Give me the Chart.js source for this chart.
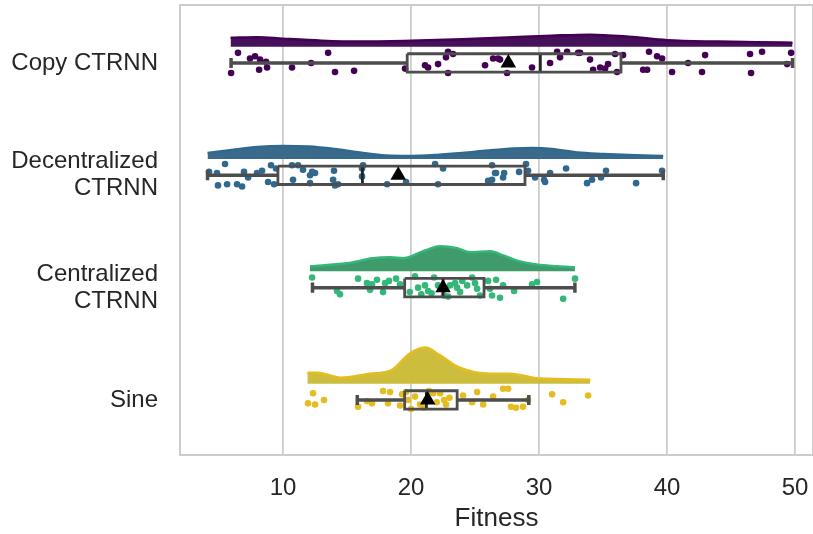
<!DOCTYPE html>
<html>
<head>
<meta charset="utf-8">
<script src="https://cdn.jsdelivr.net/npm/chart.js@4.4.1/dist/chart.umd.min.js"></script>
<style>
  html, body { margin: 0; padding: 0; background: #fff; }
  #wrap { width: 813px; height: 534px; }
</style>
</head>
<body>
<div id="wrap"><canvas id="chart"></canvas></div>
<script>
// categories (top to bottom)
const categories = [['Copy CTRNN'], ['Decentralized', 'CTRNN'], ['Centralized', 'CTRNN'], ['Sine']];
const pointColors = ['#440154', '#31688e', '#35b779', '#e6bd20'];
const cloudColors = ['#45115a', '#396a8c', '#3f9a6c', '#cdbd3c'];

// box stats
const whiskerLo = [5.94, 4.1, 12.3, 15.8];
const q1 = [19.7, 9.6, 19.5, 19.5];
const median = [30.1, 16.2, 22.5, 21.2];
const q3 = [36.4, 28.9, 25.7, 23.6];
const whiskerHi = [49.8, 39.7, 32.8, 29.2];
const means = [27.6, 19.0, 22.5, 21.3];

// raw points (fitness) + vertical jitter (category units)
const copyX = [5.94, 6.48, 7.42, 7.81, 8.13, 8.20, 8.67, 8.75, 10.70, 12.19, 13.52, 14.06, 15.55, 19.53, 21.09, 21.33, 22.11, 22.73, 22.89, 23.28, 22.89, 25.78, 26.41, 26.80, 26.95, 27.50, 29.45, 30.86, 31.41, 31.64, 32.19, 33.05, 33.20, 33.98, 34.22, 34.77, 35.16, 35.39, 35.94, 36.09, 36.56, 38.13, 38.44, 38.59, 39.22, 39.61, 40.39, 41.64, 42.73, 42.97, 46.48, 46.56, 47.42, 49.38, 49.69];
const copyJ = [0.09, -0.09, -0.04, -0.06, 0.06, -0.03, -0.01, 0.04, 0.04, 0, -0.09, 0.08, 0.07, 0.05, 0.02, 0.04, 0.01, -0.05, -0.10, -0.08, 0.09, 0.02, -0.04, -0.04, -0.03, 0.09, 0.04, 0, -0.10, -0.05, -0.10, -0.09, -0.09, -0.03, 0.06, 0.04, 0.05, 0.01, -0.08, 0.08, -0.07, 0.06, 0.06, -0.10, -0.06, -0.04, 0.08, 0, 0.08, -0.07, -0.08, 0.09, -0.10, 0.01, -0.09];

const decX = [4.22, 4.84, 5.47, 4.92, 5.63, 6.41, 6.80, 6.95, 7.27, 7.97, 8.36, 8.83, 9.06, 9.30, 9.45, 10.70, 10.78, 11.17, 11.56, 12.11, 12.27, 12.50, 12.11, 13.98, 13.91, 14.06, 14.30, 16.17, 16.17, 16.25, 18.13, 19.61, 21.88, 22.50, 22.11, 26.02, 26.33, 26.56, 26.33, 26.64, 27.19, 27.27, 28.44, 28.98, 29.14, 29.69, 30.39, 30.47, 30.86, 32.11, 33.75, 34.14, 34.84, 35.23, 37.58, 39.61];
const decJ = [-0.03, -0.02, -0.10, 0.09, 0.08, 0.08, 0.10, -0.03, 0.02, -0.02, -0.04, 0.06, -0.09, 0.08, -0.06, -0.09, 0.04, -0.09, -0.05, 0, -0.03, -0.02, 0.07, -0.04, 0.04, 0.09, 0.08, -0.06, 0.01, -0.09, 0.08, 0.06, -0.10, -0.06, 0.08, 0.05, 0.04, -0.02, -0.09, -0.02, 0.02, -0.02, -0.03, -0.10, -0.04, 0.02, 0.04, 0.06, -0.02, -0.06, 0.07, 0.04, 0.02, -0.04, 0.07, -0.04];

const cenX = [12.27, 14.22, 14.45, 15.86, 16.56, 16.80, 16.95, 17.34, 17.81, 17.97, 18.28, 18.83, 19.14, 20.31, 20.55, 21.09, 21.33, 21.80, 22.11, 22.58, 23.05, 23.44, 23.59, 23.83, 24.38, 24.77, 25.00, 25.16, 25.39, 26.02, 26.17, 26.33, 26.64, 26.95, 27.19, 28.05, 29.45, 29.84, 31.88, 32.81, 21.6, 22.9, 24.0, 20.8, 19.9];
const cenJ = [-0.09, 0.03, 0.06, -0.08, -0.04, 0.02, -0.03, -0.07, 0.04, -0.04, -0.06, -0.08, -0.03, -0.10, 0, -0.02, 0.03, -0.09, -0.02, 0.07, -0.02, -0.04, 0, 0.04, -0.02, -0.09, -0.04, 0.01, 0.07, -0.06, 0.01, 0.07, -0.07, 0.09, -0.02, 0.03, -0.03, -0.05, 0.10, -0.08, 0.05, 0.08, -0.06, 0.06, 0.04];

const sineX = [11.95, 12.34, 12.50, 13.20, 15.86, 16.56, 16.95, 17.81, 18.36, 18.20, 19.14, 19.30, 19.77, 20.31, 20.70, 21.72, 22.27, 22.58, 22.73, 24.06, 24.77, 25.16, 25.63, 26.41, 27.19, 27.58, 27.81, 28.20, 28.75, 29.14, 31.02, 31.88, 33.83, 21.0, 21.4, 20.0, 23.0, 22.0, 19.6];
const sineJ = [0.03, -0.06, 0.04, 0, 0.06, 0.01, 0.03, -0.08, -0.07, 0.03, 0.05, -0.05, 0, -0.03, 0.04, -0.06, -0.06, 0, 0.04, -0.04, 0.02, -0.07, 0.04, -0.03, -0.10, -0.10, 0.06, 0.07, 0.06, 0, -0.05, 0.02, -0.04, 0.07, -0.08, 0.08, -0.02, 0.02, -0.07];

// half-violin outlines: x grid and height (category units)
const copyCloudX = [5.9, 8, 10, 13, 16, 20, 24, 28, 31, 34, 37, 40, 44, 47, 49.8];
const copyCloudH = [0.080, 0.085, 0.071, 0.053, 0.045, 0.053, 0.067, 0.085, 0.098, 0.107, 0.089, 0.058, 0.045, 0.040, 0.036];
const decCloudX = [4.1, 6, 8, 10, 12, 14, 16, 18, 20, 22, 24, 26, 28, 29.5, 31, 33, 35, 37, 39.7];
const decCloudH = [0.053, 0.080, 0.107, 0.116, 0.111, 0.089, 0.058, 0.031, 0.027, 0.036, 0.053, 0.076, 0.094, 0.098, 0.089, 0.058, 0.045, 0.036, 0.027];
const cenCloudX = [12.1, 15.0, 17.0, 18.4, 19.4, 20.9, 22.3, 23.6, 24.6, 26.2, 27.2, 28.5, 29.8, 31.4, 32.8];
const cenCloudH = [0.045, 0.071, 0.116, 0.125, 0.116, 0.178, 0.223, 0.205, 0.169, 0.178, 0.142, 0.089, 0.062, 0.045, 0.036];
const sineCloudX = [11.9, 12.7, 14.5, 16.8, 18.4, 19.9, 21.1, 22.3, 23.8, 26.2, 27.7, 30.1, 34.0];
const sineCloudH = [0.098, 0.098, 0.053, 0.089, 0.116, 0.267, 0.321, 0.249, 0.142, 0.089, 0.089, 0.045, 0.036];

const xTicks = [10, 20, 30, 40, 50];

const pointsX = [copyX, decX, cenX, sineX];
const pointsJ = [copyJ, decJ, cenJ, sineJ];
const cloudX = [copyCloudX, decCloudX, cenCloudX, sineCloudX];
const cloudH = [copyCloudH, decCloudH, cenCloudH, sineCloudH];

const cloudBase = -0.145;
const boxHalf = 0.082;
const capHalf = 0.045;
const boxColor = '#4d4d4d';

const datasets = [];
const line = (pts, color, width, order) => ({
    type: 'scatter', data: pts, showLine: true, borderColor: color, borderWidth: width,
    pointRadius: 0, fill: false, order: order, borderCapStyle: 'butt', borderJoinStyle: 'miter'
});

categories.forEach((c, i) => {
    // cloud
    const base = i + cloudBase;
    datasets.push({
        type: 'scatter',
        data: cloudX[i].map((x, k) => ({ x: x, y: base - cloudH[i][k] })),
        showLine: true,
        cubicInterpolationMode: 'monotone',
        borderColor: pointColors[i],
        borderWidth: 2.5,
        borderJoinStyle: 'round',
        backgroundColor: cloudColors[i],
        fill: { target: { value: base }, above: cloudColors[i], below: cloudColors[i] },
        pointRadius: 0,
        order: 4
    });
    // rain
    datasets.push({
        type: 'scatter',
        data: pointsX[i].map((x, k) => ({ x: x, y: i + pointsJ[i][k] })),
        backgroundColor: pointColors[i],
        borderWidth: 0,
        pointRadius: 3.3,
        order: 3
    });
    // box
    datasets.push(line([
        { x: q1[i], y: i - boxHalf }, { x: q3[i], y: i - boxHalf },
        { x: q3[i], y: i + boxHalf }, { x: q1[i], y: i + boxHalf },
        { x: q1[i], y: i - boxHalf }
    ], boxColor, 2.8, 1));
    datasets.push(line([{ x: whiskerLo[i], y: i }, { x: q1[i], y: i }], boxColor, 3.5, 1));
    datasets.push(line([{ x: q3[i], y: i }, { x: whiskerHi[i], y: i }], boxColor, 3.5, 1));
    datasets.push(line([{ x: whiskerLo[i], y: i - capHalf }, { x: whiskerLo[i], y: i + capHalf }], boxColor, 3.5, 1));
    datasets.push(line([{ x: whiskerHi[i], y: i - capHalf }, { x: whiskerHi[i], y: i + capHalf }], boxColor, 3.5, 1));
    datasets.push(line([{ x: median[i], y: i - boxHalf }, { x: median[i], y: i + boxHalf }], '#262626', 2.8, 1));
    // mean
    datasets.push({
        type: 'scatter',
        data: [{ x: means[i], y: i }],
        pointStyle: 'triangle',
        pointRadius: 9,
        backgroundColor: '#000',
        borderWidth: 0,
        order: 0
    });
});

const frame = {
    id: 'frame',
    beforeDatasetsDraw(chart) {
        const a = chart.chartArea, ctx = chart.ctx;
        ctx.save();
        ctx.strokeStyle = '#cccccc';
        ctx.lineWidth = 2;
        ctx.strokeRect(a.left, a.top, a.right - a.left, a.bottom - a.top);
        ctx.restore();
    }
};

Chart.defaults.font.family = "'Liberation Sans', Arial, sans-serif";
Chart.defaults.color = '#262626';

new Chart(document.getElementById('chart'), {
    type: 'scatter',
    data: { datasets },
    options: {
        responsive: true,
        maintainAspectRatio: false,
        animation: false,
        layout: { autoPadding: false, padding: { top: 5, right: 0, left: 0, bottom: 0 } },
        plugins: { legend: { display: false }, tooltip: { enabled: false } },
        scales: {
            x: {
                type: 'linear',
                min: 1.95,
                max: 51.4,
                afterBuildTicks: axis => { axis.ticks = xTicks.map(v => ({ value: v })); },
                ticks: { font: { size: 24 }, padding: 19 },
                grid: { color: '#cccccc', lineWidth: 1.8, drawTicks: false },
                border: { display: false },
                title: { display: true, text: 'Fitness', font: { size: 26 }, padding: { top: 0, bottom: 0 } },
                afterFit: axis => { axis.height = 79; axis.paddingLeft = 0; axis.paddingRight = 0; }
            },
            y: {
                type: 'linear',
                reverse: true,
                min: -0.516,
                max: 3.49,
                afterBuildTicks: axis => { axis.ticks = categories.map((c, i) => ({ value: i })); },
                ticks: {
                    font: { size: 24, lineHeight: 1.12 },
                    padding: 22,
                    callback: v => categories[v]
                },
                grid: { display: false, drawTicks: false },
                border: { display: false },
                afterFit: axis => { axis.width = 180; axis.paddingTop = 0; axis.paddingBottom = 0; }
            }
        }
    },
    plugins: [frame]
});
</script>
</body>
</html>
